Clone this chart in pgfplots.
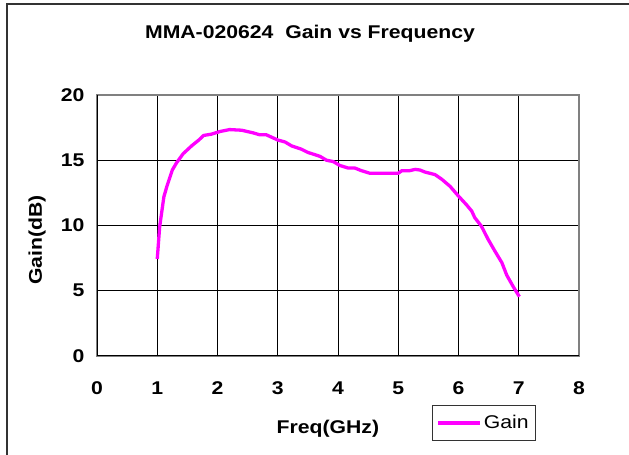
\documentclass[border=0pt]{standalone}
\usepackage{fontspec}
\setmainfont{Liberation Sans}[FakeStretch=1.15]
\usepackage{pgfplots}
\pgfplotsset{compat=1.18}

\definecolor{gainmag}{RGB}{255,0,255}
\newcommand{\chartfont}{\fontsize{18.5}{20}\selectfont}

\begin{document}
\begin{tikzpicture}[x=1bp,y=1bp]
\useasboundingbox (0,0) rectangle (629,455);
\draw[line width=2bp, black!80] (6.5,-5) -- (6.5,451) -- (640,451);
\begin{axis}[
    at={(97bp,99bp)}, anchor=south west,
    scale only axis, width=482bp, height=261bp,
    xmin=0, xmax=8, ymin=0, ymax=20,
    xtick={0,1,...,8}, ytick={0,5,...,20},
    grid=major,
    major grid style={black, line width=0.8bp},
    major tick length=0pt,
    axis line style={black!50, line width=1.5bp},
    /pgf/number format/assume math mode=true,
    ticklabel style={font=\chartfont\bfseries},
    yticklabel style={xshift=-9bp},
    xticklabel style={yshift=-22bp},
    title={MMA-020624\ \ Gain vs Frequency},
    title style={font=\chartfont\bfseries, at={(axis description cs:0.442,1.21)}, anchor=center},
    xlabel={Freq(GHz)},
    xlabel style={font=\chartfont\bfseries, at={(axis description cs:0.479,-0.2797)}, anchor=center},
    ylabel={Gain(dB)},
    ylabel style={font=\chartfont\bfseries, at={(axis description cs:-0.1245,0.4445)}, anchor=center},
    legend style={at={(axis description cs:0.6944,-0.3245)}, anchor=south west,
        draw=black!80, line width=0.8bp, inner xsep=4.5bp, inner ysep=8bp,
        nodes={inner sep=2bp}, font=\chartfont},
    legend image code/.code={\draw[#1] (0bp,0bp) -- (42bp,0bp);},
]
\draw[black, line width=1.5bp] (rel axis cs:0,1) -- (rel axis cs:0,0) -- (rel axis cs:1,0);
\addplot[gainmag, line width=3.3bp, line join=round] coordinates {
    (1.00,7.43) (1.04,9.9) (1.11,12.2) (1.16,13.0) (1.25,14.25) (1.32,14.8)
    (1.43,15.5) (1.57,16.1) (1.69,16.55) (1.77,16.9) (1.90,17.0) (2.04,17.2)
    (2.20,17.35) (2.40,17.3) (2.59,17.1) (2.70,16.95) (2.81,16.95) (3.00,16.55)
    (3.12,16.4) (3.23,16.1) (3.39,15.85) (3.50,15.6) (3.70,15.3) (3.81,15.0)
    (3.92,14.9) (4.03,14.6) (4.17,14.4) (4.28,14.4) (4.39,14.2) (4.53,14.0)
    (5.00,14.0) (5.06,14.2) (5.19,14.2) (5.28,14.3) (5.36,14.25) (5.44,14.1)
    (5.61,13.9) (5.72,13.55) (5.86,13.0) (6.00,12.25) (6.13,11.6) (6.22,11.1)
    (6.27,10.6) (6.38,9.95) (6.49,8.95) (6.60,8.07) (6.72,7.15) (6.80,6.2)
    (6.91,5.3) (7.01,4.55)
};
\legend{Gain}
\end{axis}
\end{tikzpicture}
\end{document}
